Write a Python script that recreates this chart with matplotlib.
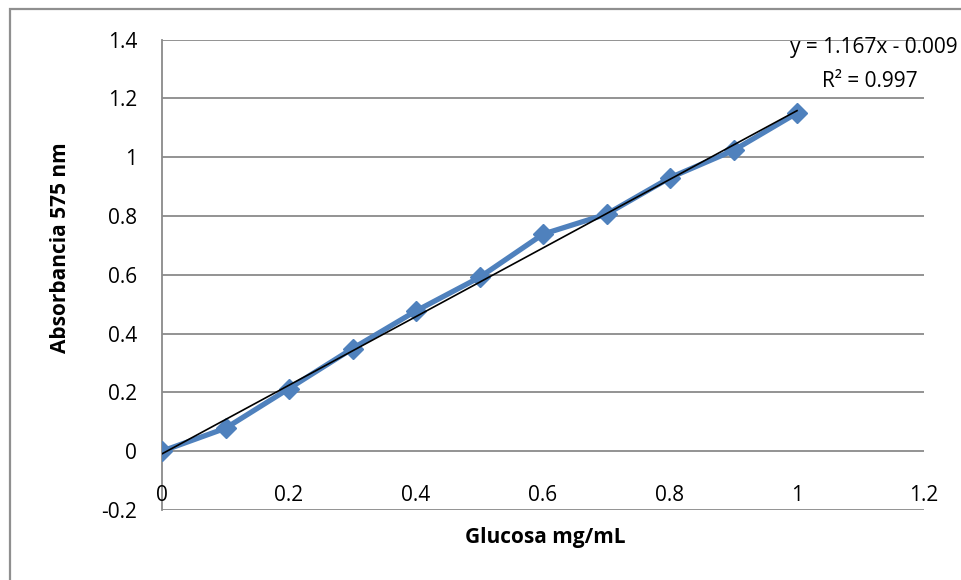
import matplotlib.pyplot as plt
from matplotlib.patches import Rectangle
import numpy as np

# Curva de calibración de glucosa
glucosa = [0, 0.1, 0.2, 0.3, 0.4, 0.5, 0.6, 0.7, 0.8, 0.9, 1.0]
absorbancia = [0, 0.078, 0.213, 0.349, 0.477, 0.591, 0.738, 0.806, 0.930, 1.023, 1.150]

# Ajuste lineal (según la ecuación mostrada)
pendiente = 1.167
intercepto = -0.009
r2 = 0.997

yticks = [-0.2, 0, 0.2, 0.4, 0.6, 0.8, 1, 1.2, 1.4]
ytick_labels = ['-0.2', '0', '0.2', '0.4', '0.6', '0.8', '1', '1.2', '1.4']
xticks = [0, 0.2, 0.4, 0.6, 0.8, 1, 1.2]
xtick_labels = ['0', '0.2', '0.4', '0.6', '0.8', '1', '1.2']

plt.rcParams['font.family'] = ['Open Sans', 'DejaVu Sans']
fs = 15

W, H = 961, 580
fig = plt.figure(figsize=(W / 100, H / 100), dpi=100)
ax = fig.add_axes([162 / W, 1 - 510 / H, (924 - 162) / W, (510 - 39.5) / H])

# marco exterior del gráfico
fig.patches.append(Rectangle((10 / W, -0.1), 1.2, 1.1 - 9 / H,
                             transform=fig.transFigure, fill=False,
                             edgecolor='#8f8f8f', linewidth=1.6))

ax.set_xlim(0, 1.2)
ax.set_ylim(-0.2, 1.4)

# líneas de división horizontales
for yv in yticks:
    ax.axhline(yv, color='#8a8a8a', linewidth=1.3, zorder=1)

ax.spines['right'].set_visible(False)
ax.spines['top'].set_visible(False)
ax.spines['bottom'].set_visible(False)
ax.spines['left'].set_color('#8a8a8a')
ax.spines['left'].set_linewidth(1.3)

ax.set_yticks(yticks)
ax.set_yticklabels(ytick_labels, fontsize=fs)
ax.tick_params(axis='y', length=0, pad=18)

ax.set_xticks([])
for xv, lab in zip(xticks, xtick_labels):
    ax.text(xv, -0.15, lab, fontsize=fs, ha='center', va='center')

# datos y línea de tendencia
ax.plot(glucosa, absorbancia, color='#4F81BD', linewidth=3.8, marker='D',
        markersize=10, zorder=3)
xt = np.array([0, 1.0])
ax.plot(xt, pendiente * xt + intercepto, color='black', linewidth=1.2, zorder=4)

fig.text(958 / W, 1 - 48 / H, 'y = %.3fx - %.3f' % (pendiente, -intercepto),
         fontsize=fs, ha='right', va='center')
fig.text(918 / W, 1 - 82 / H, 'R² = %.3f' % r2,
         fontsize=fs, ha='right', va='center')

fig.text(545 / W, 1 - 537 / H, 'Glucosa mg/mL', fontsize=fs,
         fontweight='bold', ha='center', va='center')
fig.text(60 / W, 1 - 248 / H, 'Absorbancia 575 nm', fontsize=fs,
         fontweight='bold', ha='center', va='center', rotation=90)

fig.savefig('out.png', dpi=100)
